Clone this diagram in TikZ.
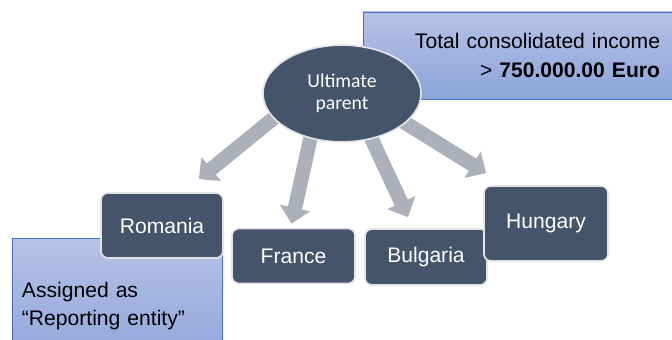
\documentclass[tikz,border=0pt]{standalone}
\usepackage{fontspec}
\setmainfont{Liberation Sans}
\newfontfamily\calibrifont{Carlito}
\usepackage{tikz}
\usetikzlibrary{shapes.geometric, arrows.meta, calc, backgrounds}
\definecolor{myslate}{RGB}{68,84,106}
\definecolor{myedge}{RGB}{228,228,230}
\definecolor{mygray}{RGB}{173,176,186}
\definecolor{myblue}{RGB}{68,114,196}
\definecolor{hdrblue}{RGB}{182,194,231}
\definecolor{lowblue}{RGB}{140,163,217}
\tikzset{
  entity/.style={rectangle, draw=myedge, fill=myslate, text=white,
    rounded corners=5pt, line width=1.2pt, inner sep=0pt,
    font=\fontsize{15}{18}\selectfont},
  parentnode/.style={ellipse, draw=myedge, fill=myslate, text=white,
    minimum width=3.95cm, minimum height=2.42cm, inner sep=0pt,
    line width=1.2pt, align=center,
    font=\calibrifont\fontsize{14}{16}\selectfont},
  note/.style={rectangle, draw=myblue, top color=hdrblue, bottom color=lowblue,
    line width=0.6pt, inner sep=0pt, font=\fontsize{15}{20}\selectfont},
  fatarrow/.style={-{Triangle[length=0.4cm, width=0.75cm]}, line width=0.36cm,
    color=mygray, shorten <=-0.25cm}
}

\begin{document}
\begin{tikzpicture}[x=0.025cm, y=-0.025cm]
  \useasboundingbox (0,0) rectangle (672,340);
  % Notes
  \node[note, minimum width=7.925cm, minimum height=2.175cm, text width=6.925cm,
    align=right] (income) at (521.5,55.5)
    {Total consolidated income\\> \textbf{750.000.00 Euro}};
  \node[note, minimum width=5.25cm, minimum height=3.375cm, text width=4.75cm,
    align=left] (reporting) at (117,306)
    {Assigned as\\\char"201C Reporting entity\char"201D};
  % Group
  \node[parentnode] (parent) at (342,93.5) {Ultimate\\parent};
  \node[entity, minimum width=3.05cm, minimum height=1.625cm] (romania) at (162,225.5) {Romania};
  \node[entity, minimum width=3.075cm, minimum height=1.375cm] (france) at (293.5,256) {France};
  \node[entity, minimum width=3.05cm, minimum height=1.4cm] (bulgaria) at (426,257) {Bulgaria};
  \node[entity, minimum width=3.1cm, minimum height=1.875cm] (hungary) at (546,223.5) {Hungary};
  % Arrows
  \begin{scope}[on background layer]
    \draw[fatarrow] (parent.200) -- ($(romania.north east)+(-25,-13)$);
    \draw[fatarrow] (parent.235) -- ($(france.north)+(-2,-4)$);
    \draw[fatarrow] (parent.303) -- ($(bulgaria.north)+(-18,-11)$);
    \draw[fatarrow] (parent.335) -- ($(hungary.north west)+(3,-12)$);
  \end{scope}
\end{tikzpicture}
\end{document}
